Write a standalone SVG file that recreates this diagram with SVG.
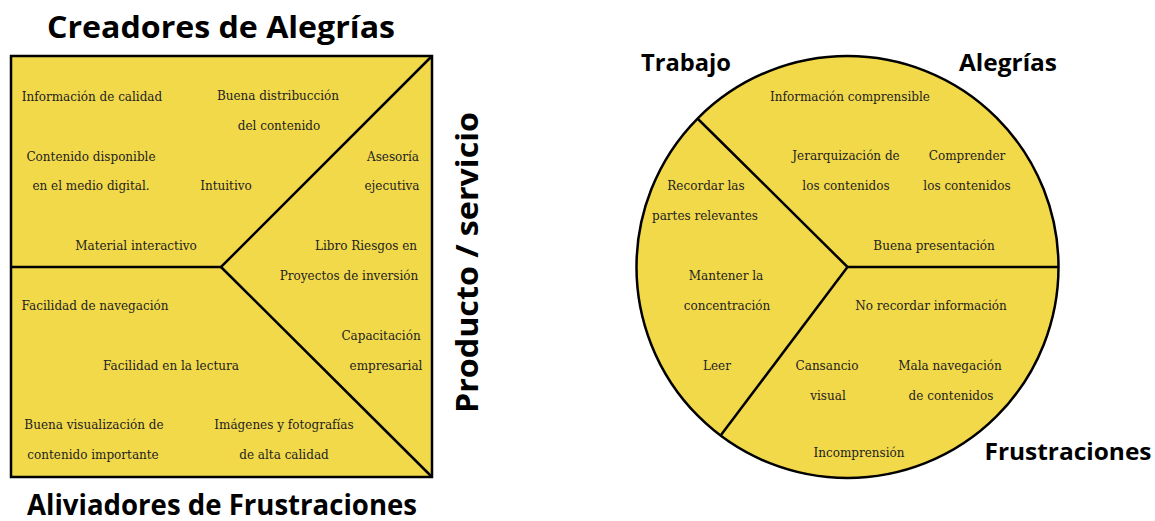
<svg xmlns="http://www.w3.org/2000/svg" width="1155" height="521" viewBox="0 0 1155 521">
<style>
.shape{fill:#F2D94A;stroke:#000;stroke-width:2.5}
.line{fill:none;stroke:#000;stroke-width:2.5}
.t{font-family:"DejaVu Serif","Liberation Serif",serif;font-size:12px;fill:#222;text-anchor:middle}
.h{font-family:"Open Sans","Liberation Sans",sans-serif;font-weight:700;fill:#000;text-anchor:middle}
</style>
<rect width="1155" height="521" fill="#fff"/>
<g id="value-map">
  <rect class="shape" x="11" y="56" width="421" height="421"/>
</g>
<g id="customer-profile">
  <circle class="shape" cx="847.5" cy="267" r="211"/>
</g>
<g id="connectors">
  <polyline class="line" points="11,267 221,267 432,56"/>
  <line class="line" x1="221" y1="267" x2="432" y2="477"/>
  <polyline class="line" points="698,119 847.5,267 1058.5,267"/>
  <line class="line" x1="847.5" y1="267" x2="721" y2="435"/>
</g>
<g id="titles">
  <text class="h" x="221" y="38" font-size="31" textLength="348" lengthAdjust="spacingAndGlyphs">Creadores de Alegrías</text>
  <text class="h" x="222" y="515" font-size="28" textLength="390" lengthAdjust="spacingAndGlyphs">Aliviadores de Frustraciones</text>
  <text class="h" transform="translate(478,262.5) rotate(-90)" font-size="31" textLength="301" lengthAdjust="spacingAndGlyphs">Producto / servicio</text>
  <text class="h" x="686" y="71" font-size="24" textLength="90" lengthAdjust="spacingAndGlyphs">Trabajo</text>
  <text class="h" x="1008" y="71" font-size="24" textLength="98" lengthAdjust="spacingAndGlyphs">Alegrías</text>
  <text class="h" x="1068" y="460" font-size="24" textLength="167" lengthAdjust="spacingAndGlyphs">Frustraciones</text>
</g>
<g id="gain-creators">
  <text class="t" x="92" y="101">Información de calidad</text>
  <text class="t" x="278" y="100">Buena distribucción</text>
  <text class="t" x="279" y="130">del contenido</text>
  <text class="t" x="91" y="161">Contenido disponible</text>
  <text class="t" x="91" y="190">en el medio digital.</text>
  <text class="t" x="226" y="190">Intuitivo</text>
  <text class="t" x="136" y="250">Material interactivo</text>
</g>
<g id="products-services">
  <text class="t" x="393" y="161">Asesoría</text>
  <text class="t" x="392" y="190">ejecutiva</text>
  <text class="t" x="366" y="250">Libro Riesgos en</text>
  <text class="t" x="349" y="280">Proyectos de inversión</text>
  <text class="t" x="381" y="340">Capacitación</text>
  <text class="t" x="386" y="370">empresarial</text>
</g>
<g id="pain-relievers">
  <text class="t" x="95" y="310">Facilidad de navegación</text>
  <text class="t" x="171" y="370">Facilidad en la lectura</text>
  <text class="t" x="94" y="429">Buena visualización de</text>
  <text class="t" x="93" y="459">contenido importante</text>
  <text class="t" x="284" y="429">Imágenes y fotografías</text>
  <text class="t" x="284" y="459">de alta calidad</text>
</g>
<g id="gains">
  <text class="t" x="850" y="101">Información comprensible</text>
  <text class="t" x="846" y="160">Jerarquización de</text>
  <text class="t" x="846" y="190">los contenidos</text>
  <text class="t" x="967" y="160">Comprender</text>
  <text class="t" x="967" y="190">los contenidos</text>
  <text class="t" x="934" y="250">Buena presentación</text>
</g>
<g id="jobs">
  <text class="t" x="706" y="190">Recordar las</text>
  <text class="t" x="705" y="220">partes relevantes</text>
  <text class="t" x="726" y="280">Mantener la</text>
  <text class="t" x="727" y="310">concentración</text>
  <text class="t" x="717" y="370">Leer</text>
</g>
<g id="pains">
  <text class="t" x="931" y="310">No recordar información</text>
  <text class="t" x="827" y="370">Cansancio</text>
  <text class="t" x="828" y="400">visual</text>
  <text class="t" x="950" y="370">Mala navegación</text>
  <text class="t" x="951" y="400">de contenidos</text>
  <text class="t" x="859" y="457">Incomprensión</text>
</g>
</svg>
